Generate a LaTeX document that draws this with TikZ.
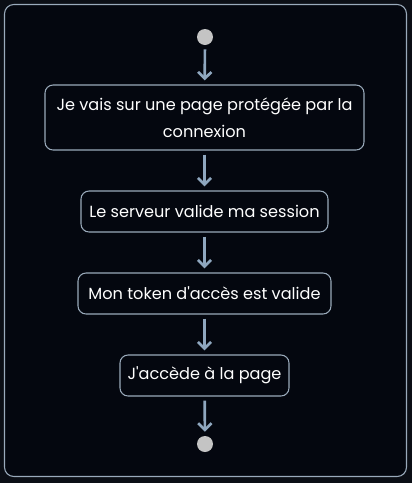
\documentclass[tikz,border=0pt]{standalone}
\usepackage{fontspec}
\setmainfont{Poppins}
\newfontfamily\popplain{Poppins}
\usetikzlibrary{arrows.meta}
\definecolor{outbg}{HTML}{0B0E15}
\definecolor{inbg}{HTML}{04070F}
\definecolor{framec}{HTML}{9AAABB}
\definecolor{arrowc}{HTML}{8FA7BF}
\definecolor{dotc}{HTML}{C4C4C4}
\newcommand{\apos}{{\popplain'}}
\tikzset{
  box/.style={draw=framec, line width=0.8pt, rounded corners=6pt, fill=inbg, text=white,
    font=\fontsize{12.1}{20}\selectfont, align=center, inner sep=0pt},
  dot/.style={circle, fill=dotc, minimum size=12pt, inner sep=0pt},
  flow/.style={draw=arrowc, line width=2pt, -{Straight Barb[length=5pt,width=10pt,line width=2pt]}, shorten >=3pt, shorten <=3pt},
}
\begin{document}
\begin{tikzpicture}[x=0.75pt,y=-0.75pt]
\useasboundingbox (0,0) rectangle (412,483);
\fill[outbg] (0,0) rectangle (412,483);
\draw[framec, line width=0.8pt, fill=inbg, rounded corners=7pt] (4.5,4.5) rectangle (406.5,476.5);
\node[dot] (start) at (205,37) {};
\node[box, minimum width=319*0.75pt, minimum height=65*0.75pt] (b1) at (204.5,117.5) {Je vais sur une page protégée par la\\connexion};
\node[box, minimum width=247*0.75pt, minimum height=41*0.75pt] (b2) at (204.5,211.5) {Le serveur valide ma session};
\node[box, minimum width=253*0.75pt, minimum height=41*0.75pt] (b3) at (204.5,293.5) {Mon token d\apos accès est valide};
\node[box, minimum width=169*0.75pt, minimum height=41*0.75pt] (b4) at (204.5,375.5) {J\apos accède à la page};
\node[dot] (end) at (205,444) {};
\draw[flow] (start) -- (b1);
\draw[flow] (b1) -- (b2);
\draw[flow] (b2) -- (b3);
\draw[flow] (b3) -- (b4);
\draw[flow] (b4) -- (end);
\end{tikzpicture}
\end{document}
